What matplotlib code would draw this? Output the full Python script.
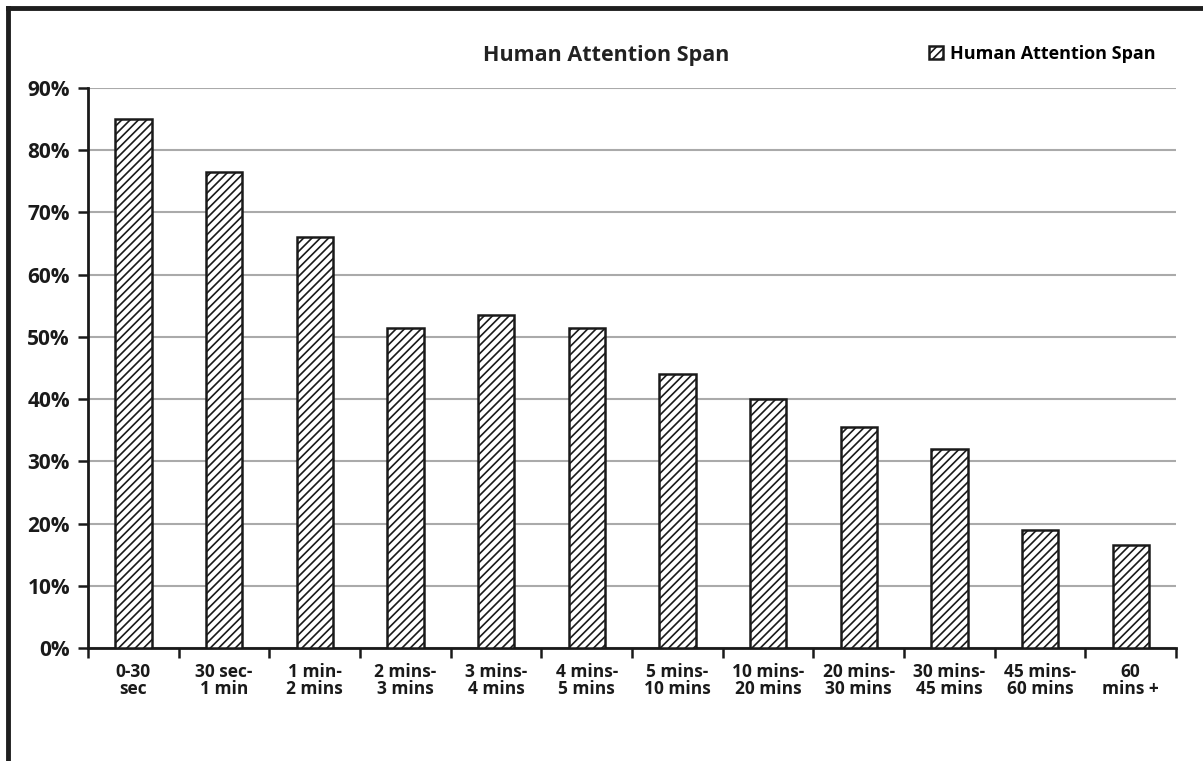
import matplotlib.pyplot as plt
from matplotlib.lines import Line2D
from matplotlib.ticker import FixedLocator, PercentFormatter

plt.rcParams['font.family'] = ['Open Sans', 'DejaVu Sans']
plt.rcParams['font.weight'] = 'bold'
plt.rcParams['hatch.color'] = '#808080'
plt.rcParams['hatch.linewidth'] = 1.2

# attention span buckets and share of people (percent)
categories = ["0-30\nsec", "30 sec-\n1 min", "1 min-\n2 mins", "2 mins-\n3 mins",
              "3 mins-\n4 mins", "4 mins-\n5 mins", "5 mins-\n10 mins", "10 mins-\n20 mins",
              "20 mins-\n30 mins", "30 mins-\n45 mins", "45 mins-\n60 mins", "60\nmins +"]
values = [85, 76.5, 66, 51.5, 53.5, 51.5, 44, 40, 35.5, 32, 19, 16.5]
series_name = "Human Attention Span"

fig = plt.figure(figsize=(12.03, 7.61), dpi=100)
ax = fig.add_axes([0.0732, 0.1485, 0.9044, 0.7359])

x = range(len(categories))
ax.bar(x, values, width=0.4, color='white', edgecolor='#1a1a1a', linewidth=1.8,
       hatch='////', label=series_name, zorder=3)

ax.set_xlim(-0.5, len(categories) - 0.5)
ax.set_ylim(0, 90)
ax.set_yticks(range(0, 91, 10))
ax.yaxis.set_major_formatter(PercentFormatter(decimals=0))
ax.grid(axis='y', color='#aaaaaa', linewidth=1.5, zorder=0)

ax.set_xticks(list(x))
ax.set_xticklabels(categories, fontsize=12.5, fontweight='bold', linespacing=0.9,
                   color='#1a1a1a')
ax.xaxis.set_minor_locator(FixedLocator([i - 0.5 for i in range(len(categories) + 1)]))
ax.tick_params(axis='x', which='major', length=0, pad=11)
ax.tick_params(axis='x', which='minor', length=7, width=1.8, color='#1a1a1a')
ax.tick_params(axis='y', length=7, width=1.8, color='#1a1a1a', labelsize=15, pad=6,
               labelcolor='#1a1a1a')
for lbl in ax.get_yticklabels():
    lbl.set_fontweight('bold')

for side in ['top', 'right']:
    ax.spines[side].set_visible(False)
for side in ['left', 'bottom']:
    ax.spines[side].set_linewidth(2)
    ax.spines[side].set_color('#1a1a1a')

fig.text(0.504, 0.927, series_name, ha='center', va='center', fontsize=15.5,
         fontweight='bold', color='#222222')
ax.legend(loc='center right', bbox_to_anchor=(0.968, 0.929), bbox_transform=fig.transFigure,
          frameon=False, handlelength=0.75, handleheight=0.75, handletextpad=0.4,
          borderpad=0, prop={'weight': 'bold', 'size': 13})

# dark frame along the top and left edges
fig.add_artist(Line2D([0.007, 1.0], [0.990, 0.990], transform=fig.transFigure,
                      color='#1e1e1e', linewidth=3.5))
fig.add_artist(Line2D([0.007, 0.007], [0.0, 0.990], transform=fig.transFigure,
                      color='#1e1e1e', linewidth=3.5))

fig.savefig('out.png', dpi=100, facecolor='white')
